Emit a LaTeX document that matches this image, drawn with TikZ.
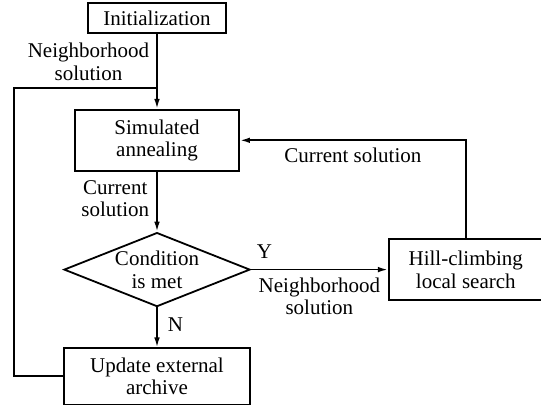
\documentclass[tikz,border=0pt]{standalone}
\usepackage{fontspec}
\setmainfont{Liberation Serif}
\usepackage{tikz}
\usetikzlibrary{shapes.geometric, arrows.meta, positioning}

\begin{document}
\begin{tikzpicture}[
  x=0.5pt, y=-0.5pt,
  font=\fontsize{10.5}{11.3}\selectfont,
  box/.style={rectangle, draw, line width=0.9pt, align=center, inner sep=2pt},
  cond/.style={diamond, draw, line width=0.9pt, align=center, inner sep=0pt,
               shape aspect=2.5, minimum width=93pt, minimum height=37pt},
  arrow/.style={-{Latex[length=5pt,width=2.8pt]}, line width=0.9pt},
  line/.style={line width=0.9pt},
  lbl/.style={align=center, inner sep=3.5pt},
]
\useasboundingbox (0,0) rectangle (541,406);

\node[box, minimum width=69pt, minimum height=15pt] (init) at (157,18) {Initialization};
\node[box, minimum width=82pt, minimum height=30.5pt, below=37.5pt of init] (anneal) {Simulated\\annealing};
\node[cond, below=30pt of anneal] (check) {Condition\\is met};
\node[box, minimum width=93pt, minimum height=28pt, below=20pt of check] (archive) {Update external\\archive};
\node[box, minimum width=77pt, minimum height=30.5pt, right=68.5pt of check] (hill) {Hill-climbing\\local search};

\coordinate (join) at ([yshift=-27pt]init.south);
\coordinate (loop) at ([xshift=-24.5pt]archive.west);

\draw[arrow] (init) -- (anneal) node[pos=0.37, left, lbl] {Neighborhood\\solution};
\draw[arrow] (anneal) -- (check) node[pos=0.45, left, lbl] {Current\\solution};
\draw[arrow] (check) -- (archive) node[pos=0.43, right, lbl, xshift=1.5pt] {N};
\draw[arrow] (check.east) -- (check.east -| hill.west)
  node[pos=0, above right, lbl, xshift=-1pt, yshift=1.5pt] {Y}
  node[midway, below, lbl] {Neighborhood\\solution};
\draw[arrow] (hill.north) |- (anneal.east) node[pos=0.75, below, lbl] {Current solution};
\draw[line] (archive.west) -- (loop) |- (join);
\end{tikzpicture}
\end{document}
